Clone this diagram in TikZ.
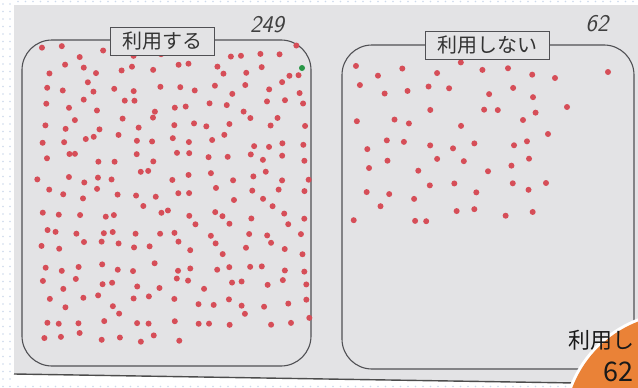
\documentclass[tikz,border=0pt]{standalone}
\usepackage{fontspec}
\newfontfamily\jpfont{Noto Sans CJK JP}
\definecolor{paper}{RGB}{227,227,229}
\definecolor{margindot}{RGB}{205,218,236}
\definecolor{penline}{RGB}{80,80,84}
\definecolor{dotred}{RGB}{214,78,88}
\definecolor{dotgreen}{RGB}{40,150,70}
\definecolor{badge}{RGB}{234,130,55}
\tikzset{
  groupbox/.style={draw=penline, line width=1.1pt, rounded corners=30pt},
  titlebox/.style={draw=penline, line width=1pt, fill=paper, minimum height=28pt,
    inner xsep=12pt, font=\jpfont\fontsize{20}{20}\selectfont, text=black!80},
  handnum/.style={font=\sffamily\itshape\fontsize{24}{24}\selectfont, text=black!75},
  badgetext/.style={anchor=west, inner sep=0pt, text=black!90},
}

\begin{document}
\begin{tikzpicture}[x=1pt, y=-1pt]
\useasboundingbox (0,0) rectangle (638,388);
\fill[white] (0,0) rectangle (638,388);
% dotted margin of the sheet
\foreach \y in {4,11.5,...,388} {
  \fill[margindot] (3,\y) circle (0.9pt);
  \fill[margindot] (10,\y) circle (0.9pt);
}
\foreach \x in {18,25.5,...,638} {
  \fill[margindot] (\x,1.5) circle (0.9pt);
  \fill[margindot] (\x,386.5) circle (0.9pt);
}
% the sheet
\fill[paper] (14,5) -- (638,5) -- (638,384) -- (14,374) -- cycle;
\draw[black!70, line width=1.4pt] (14,374) -- (638,384);

% the two groups
\draw[groupbox] (22,40) rectangle (311,366);
\draw[groupbox] (342,45) rectangle (634,369);

% dots: left group (15 x 17 cells, 248 red + 1 green)
\pgfmathsetseed{249}
\foreach \r in {0,...,16} {
  \foreach \c in {0,...,14} {
    \pgfmathtruncatemacro\k{\r*15+\c}
    \ifnum\k<248
      \pgfmathsetmacro\dx{44+\c*18.5+14*(rnd-0.5)}
      \pgfmathsetmacro\dy{52+\r*17.8+13*(rnd-0.5)}
      \fill[dotred] (\dx,\dy) circle (3pt);
    \fi
  }
}
\fill[dotgreen] (302,68) circle (3pt);
% dots: right group (8 x 7 cells + 6)
\pgfmathsetseed{62}
\foreach \r in {0,...,6} {
  \foreach \c in {0,...,7} {
    \pgfmathsetmacro\dx{362+\c*24+18*(rnd-0.5)}
    \pgfmathsetmacro\dy{68+\r*24.5+18*(rnd-0.5)}
    \fill[dotred] (\dx,\dy) circle (3pt);
  }
}
\fill[dotred] (608,72) circle (3pt);
\fill[dotred] (567,107) circle (3pt);
\fill[dotred] (546,183) circle (3pt);
\fill[dotred] (555,78) circle (3pt);
\fill[dotred] (548,134) circle (3pt);
\fill[dotred] (523,120) circle (3pt);

% titles and counts
\node[titlebox] (use) at (162,41) {利用する};
\node[titlebox] (nouse) at (487,45) {利用しない};
\node[handnum] (useN) at (267,25) {249};
\node[handnum] (nouseN) at (597,24) {62};

% corner badge
\begin{scope}
\clip (0,0) rectangle (638,388);
\fill[white] (679,428) circle (117pt);
\fill[badge] (679,428) circle (114pt);
\end{scope}
\node[badgetext, font=\jpfont\fontsize{22}{22}\selectfont] (badgeL) at (568,340) {利用し};
\node[badgetext, font=\jpfont\fontsize{27}{27}\selectfont] (badgeN) at (603,372) {62};
\end{tikzpicture}
\end{document}
